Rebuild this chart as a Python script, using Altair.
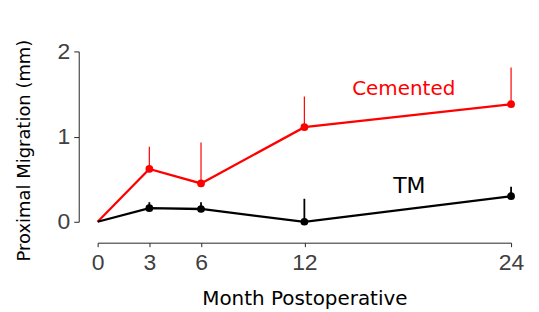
import altair as alt
import pandas as pd

months = [0, 3, 6, 12, 24]
month_ticks = [0, 3, 6, 12, 24]
y_ticks = [0, 1, 2]
groups = ["Cemented", "TM"]
colors = ["#ff0000", "#000000"]
cemented_mean = [0.0, 0.62, 0.45, 1.11, 1.38]
cemented_upper = [0.0, 0.88, 0.93, 1.47, 1.81]
tm_mean = [0.0, 0.16, 0.15, 0.0, 0.30]
tm_upper = [0.0, 0.23, 0.23, 0.27, 0.41]
label_text = ["Cemented", "TM"]
label_x = [17.77, 18.09]
label_y = [1.484, 0.341]
label_size = [20, 22]

rows = []
for m, v, u in zip(months, cemented_mean, cemented_upper):
    rows.append({"month": m, "value": v, "upper": u, "group": "Cemented"})
for m, v, u in zip(months, tm_mean, tm_upper):
    rows.append({"month": m, "value": v, "upper": u, "group": "TM"})
df = pd.DataFrame(rows)
labels = pd.DataFrame({"text": label_text, "month": label_x, "value": label_y,
                       "group": groups, "size": label_size})

xscale = alt.Scale(domain=[0, 24], nice=False, zero=False)
yscale = alt.Scale(domain=[0, 2], nice=False)
cscale = alt.Scale(domain=groups, range=colors)

x_axis = alt.Axis(values=month_ticks, labelExpr="datum.value", title="Month Postoperative", offset=21,
                  tickSize=4, labelPadding=5, titlePadding=14, grid=False,
                  labelFlush=False, labelOverlap=False,
                  labelFont="Liberation Sans", labelFontSize=23,
                  titleFont="DejaVu Sans", titleFontSize=20)
y_axis = alt.Axis(values=y_ticks, labelExpr="datum.value", tickCount=5,
                  title="Proximal Migration (mm)", offset=19,
                  tickSize=5, labelPadding=4, grid=False, titleY=99, titleX=-45,
                  labelFlush=False, labelOverlap=False,
                  labelFont="Liberation Sans", labelFontSize=23,
                  titleFont="DejaVu Sans", titleFontSize=18)

X = alt.X("month:Q", scale=xscale, axis=x_axis)
Y = alt.Y("value:Q", scale=yscale, axis=y_axis)
C = alt.Color("group:N", scale=cscale, legend=None)

base = alt.Chart(df)

lines = base.mark_line(strokeWidth=2.3).encode(x=X, y=Y, color=C, detail="group:N")

err = base.transform_filter("datum.month > 0").mark_rule().encode(
    x=X, y=Y, y2="upper:Q", color=C,
    strokeWidth=alt.StrokeWidth("group:N", scale=alt.Scale(domain=groups, range=[1.2, 1.8]), legend=None),
)

pts = base.transform_filter("datum.month > 0").mark_circle(size=60, opacity=1).encode(
    x=X, y=Y, color=C,
)

txt = alt.Chart(labels).mark_text(font="DejaVu Sans", baseline="alphabetic", align="center").encode(
    x=X, y=Y, text="text:N", color=C,
    size=alt.Size("size:Q", scale=None, legend=None),
)

chart = alt.layer(lines, err, pts, txt).properties(
    width=415, height=171,
    autosize=alt.AutoSizeParams(type="none"),
    padding={"left": 90, "top": 43, "right": 20, "bottom": 90},
).configure_view(stroke=None).configure_axis(
    domainColor="#262626", tickColor="#262626", labelColor="#404040",
    labelFontWeight="normal", titleFontWeight="normal", titleColor="#000000",
    domainWidth=1, tickWidth=1,
)

chart.save("out.html", embed_options={"renderer": "svg", "actions": False})
